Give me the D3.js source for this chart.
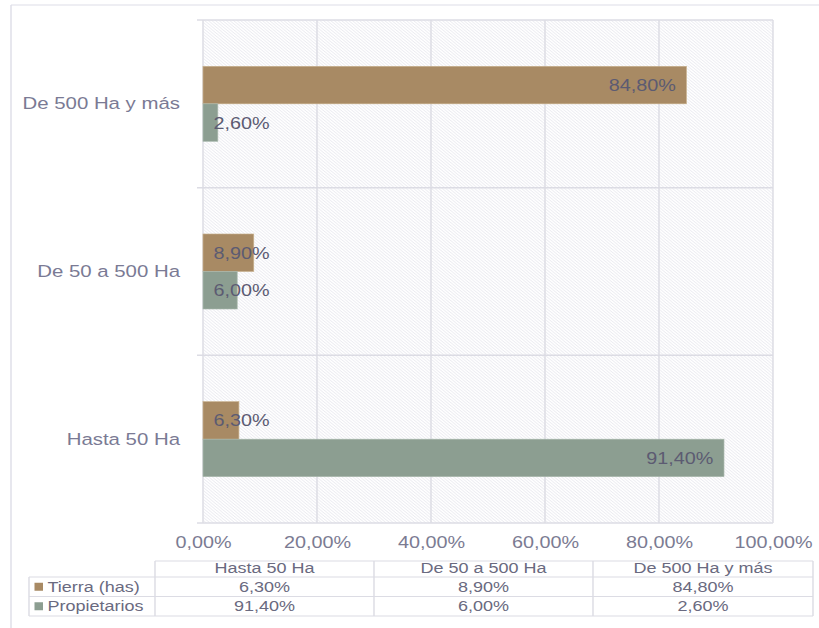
<!DOCTYPE html>
<html><head><meta charset="utf-8">
<script src="https://cdn.jsdelivr.net/npm/d3@7"></script>
<style>body{margin:0;background:#fff;} svg{display:block}</style>
</head><body><svg id="chart"></svg>
<script>
// ---- data ----
const categories = ["Hasta 50 Ha", "De 50 a 500 Ha", "De 500 Ha y más"];
const seriesNames = ["Tierra (has)", "Propietarios"];
const tierra = [6.3, 8.9, 84.8];
const propietarios = [91.4, 6.0, 2.6];
const xTicks = [0, 20, 40, 60, 80, 100];

const seriesValues = [tierra, propietarios];
const seriesColors = ["#a88a64", "#8c9e91"];
const seriesStroke = ["#c7b08c", "#aab9ae"];
const fmt = v => v.toFixed(2).replace(".", ",") + "%";

// ---- layout (image is horizontally stretched) ----
const W = 819, H = 628, SX = 1.2;
const VW = W / SX;
const L = 203 / SX, R = 773 / SX, T = 20, B = 523;
const FONT = "'Liberation Sans', Arial, Helvetica, sans-serif";

const svg = d3.select("#chart")
  .attr("width", W).attr("height", H)
  .attr("viewBox", `0 0 ${VW} ${H}`)
  .attr("preserveAspectRatio", "none")
  .style("font-family", FONT);

// hatch pattern
const defs = svg.append("defs");
const pat = defs.append("pattern").attr("id", "hatch")
  .attr("patternUnits", "userSpaceOnUse").attr("width", 3).attr("height", 3);
pat.append("rect").attr("width", 3).attr("height", 3).attr("fill", "#ffffff");
pat.append("path").attr("d", "M-1,-1 L4,4 M-1,2 L1,4 M2,-1 L4,1")
  .attr("stroke", "#e3e3ea").attr("stroke-width", 0.7);

// outer frame lines
svg.append("line").attr("x1", 11 / SX).attr("x2", 11 / SX).attr("y1", 5).attr("y2", H)
  .attr("stroke", "#dedee8").attr("stroke-width", 1.2);
svg.append("line").attr("x1", 11 / SX).attr("x2", VW).attr("y1", 5).attr("y2", 5)
  .attr("stroke", "#dedee8").attr("stroke-width", 1.2);

// scales
const x = d3.scaleLinear().domain([0, 100]).range([L, R]);
const yOrder = categories.slice().reverse();
const y = d3.scaleBand().domain(yOrder).range([T, B]).padding(0);
const ySub = d3.scaleBand().domain(seriesNames).range([0, y.bandwidth()])
  .paddingInner(0).paddingOuter(1.235);

// plot background
svg.append("rect").attr("x", L).attr("y", T).attr("width", R - L).attr("height", B - T)
  .attr("fill", "url(#hatch)");

// vertical gridlines
svg.append("g").selectAll("line").data(xTicks).join("line")
  .attr("x1", d => x(d)).attr("x2", d => x(d)).attr("y1", T).attr("y2", B)
  .attr("stroke", "#dcdce4").attr("stroke-width", 1.2);

// horizontal category separators (with outward ticks)
const bounds = yOrder.map(c => y(c)).concat([B]);
svg.append("g").selectAll("line").data(bounds).join("line")
  .attr("x1", L - 6 / SX).attr("x2", R).attr("y1", d => d).attr("y2", d => d)
  .attr("stroke", "#dcdce4").attr("stroke-width", 1.5);

// bars
const barData = [];
categories.forEach((c, i) => {
  seriesNames.forEach((s, j) => {
    barData.push({ cat: c, series: s, j, value: seriesValues[j][i] });
  });
});

svg.append("g").selectAll("rect").data(barData).join("rect")
  .attr("x", x(0))
  .attr("y", d => y(d.cat) + ySub(d.series))
  .attr("width", d => x(d.value) - x(0))
  .attr("height", ySub.bandwidth())
  .attr("fill", d => seriesColors[d.j])
  .attr("stroke", d => seriesStroke[d.j])
  .attr("stroke-width", 0.6);

// value labels
const pad = 10.5 / SX;
const labels = svg.append("g").selectAll("text").data(barData).join("text")
  .attr("y", d => y(d.cat) + ySub(d.series) + ySub.bandwidth() / 2 + 6)
  .attr("font-size", 16.5)
  .attr("fill", "#5c5b72")
  .text(d => fmt(d.value));
labels.each(function(d) {
  const len = this.getComputedTextLength();
  const end = x(d.value) - pad;
  const sel = d3.select(this);
  if (end - len < x(0) + pad) sel.attr("x", x(0) + pad).attr("text-anchor", "start");
  else sel.attr("x", end).attr("text-anchor", "end");
});

// category labels
svg.append("g").selectAll("text").data(categories).join("text")
  .attr("x", 180 / SX)
  .attr("y", d => y(d) + y.bandwidth() / 2 + 5.5)
  .attr("text-anchor", "end")
  .attr("font-size", 17)
  .attr("fill", "#7a7a94")
  .text(d => d);

// x axis labels
const xAxis = d3.axisBottom(x).tickValues(xTicks).tickFormat(fmt).tickSize(0).tickPadding(0);
const gx = svg.append("g").attr("transform", `translate(0,${548})`).call(xAxis);
gx.select(".domain").remove();
gx.selectAll("text").attr("dy", 0).attr("y", 0)
  .attr("font-size", 16.5).attr("font-family", FONT).attr("fill", "#7b7b92");

// data table
const colX = [155 / SX, 374 / SX, 593 / SX, 813 / SX];
const rowY = [561, 577, 596.5, 616];
const tblLeft = 29 / SX;
const tStroke = "#dcdce4";
const tg = svg.append("g");
// horizontal lines
tg.append("line").attr("x1", colX[0]).attr("x2", colX[3]).attr("y1", rowY[0]).attr("y2", rowY[0]).attr("stroke", tStroke).attr("stroke-width", 1.2);
[1, 2, 3].forEach(k => {
  tg.append("line").attr("x1", tblLeft).attr("x2", colX[3]).attr("y1", rowY[k]).attr("y2", rowY[k]).attr("stroke", tStroke).attr("stroke-width", 1.2);
});
// vertical lines
colX.forEach(cx => {
  tg.append("line").attr("x1", cx).attr("x2", cx).attr("y1", rowY[0]).attr("y2", rowY[3]).attr("stroke", tStroke).attr("stroke-width", 1.2);
});
tg.append("line").attr("x1", tblLeft).attr("x2", tblLeft).attr("y1", rowY[1]).attr("y2", rowY[3]).attr("stroke", tStroke).attr("stroke-width", 1.2);

const colCenter = i => (colX[i] + colX[i + 1]) / 2;
tg.selectAll("text.hdr").data(categories).join("text").attr("class", "hdr")
  .attr("x", (d, i) => colCenter(i)).attr("y", 573.5)
  .attr("text-anchor", "middle").attr("font-size", 15).attr("fill", "#6a6a80")
  .text(d => d);

seriesNames.forEach((s, j) => {
  const baseY = j === 0 ? 592 : 611.5;
  const midY = (rowY[j + 1] + rowY[j + 2]) / 2;
  tg.append("rect").attr("x", 34.5 / SX).attr("y", midY - 4).attr("width", 8.5 / SX).attr("height", 8)
    .attr("fill", seriesColors[j]);
  tg.append("text").attr("x", 47.5 / SX).attr("y", baseY)
    .attr("font-size", 15).attr("fill", "#6a6a80").text(s);
  tg.selectAll(null).data(seriesValues[j]).join("text")
    .attr("x", (d, i) => colCenter(i)).attr("y", baseY)
    .attr("text-anchor", "middle").attr("font-size", 15).attr("fill", "#6a6a80")
    .text(d => fmt(d));
});
</script>
</body></html>
